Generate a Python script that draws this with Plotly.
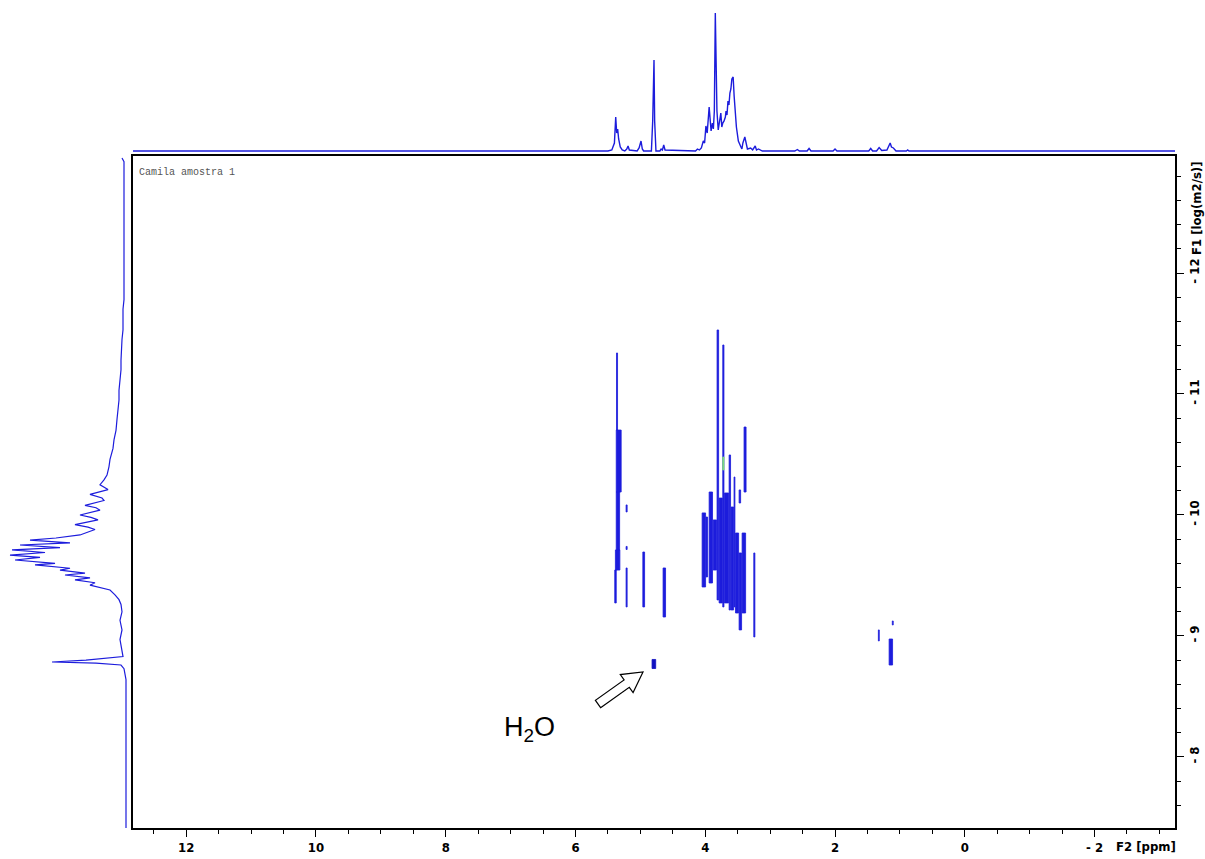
import plotly.graph_objects as go

W, H = 1205, 859

# ---------------- data ----------------
# F2 (1H) projection on top: chemical shift (ppm) and intensity
f2_ppm = [12.82, 5.50, 5.44, 5.40, 5.38, 5.365, 5.35, 5.335, 5.31, 5.28, 5.24, 5.21, 5.19, 5.17,
          5.05, 5.02, 4.99, 4.97, 4.95, 4.83, 4.81, 4.79, 4.78, 4.76, 4.70, 4.68, 4.66, 4.64, 4.62,
          4.30, 4.15, 4.12, 4.09, 4.06, 4.03, 4.01, 3.99, 3.97, 3.94, 3.91, 3.89, 3.875, 3.86,
          3.845, 3.83, 3.82, 3.80, 3.78, 3.76, 3.745, 3.73, 3.71, 3.69, 3.68, 3.665, 3.65, 3.635,
          3.62, 3.605, 3.59, 3.57, 3.555, 3.54, 3.52, 3.49, 3.47, 3.45, 3.435, 3.42, 3.39, 3.37,
          3.35, 3.30, 3.27, 3.23, 3.21, 3.18, 3.12, 2.62, 2.58, 2.55, 2.43, 2.40, 2.37, 2.03, 2.00,
          1.97, 1.48, 1.45, 1.42, 1.36, 1.32, 1.28, 1.20, 1.15, 1.13, 1.10, 1.06, 0.90, 0.88, 0.86,
          -3.24]
f2_int = [0, 0, 1, 8, 34, 18, 22, 12, 4, 1, 0, 2, 5, 1,
          0, 3, 10, 2, 0, 0, 30, 91, 30, 0, 0, 2, 1, 6, 1,
          0, 0, 2, 1, 3, 10, 8, 25, 18, 44, 20, 28, 22, 40,
          138, 60, 40, 21, 30, 38, 24, 28, 30, 34, 40, 36, 50, 46,
          58, 62, 72, 74, 55, 40, 24, 10, 6, 4, 2, 8, 14, 6,
          2, 3, 1, 5, 1, 2, 0, 0, 1.5, 0, 0, 2.5, 0, 0, 2,
          0, 0, 2.5, 0, 0, 3.5, 0.5, 1, 8, 4, 3, 0, 0, 1, 0,
          0]

# F1 (diffusion) projection on the left: log D and intensity
f1_logd = [-12.95, -12.92, -11.78, -11.70, -11.53, -11.45, -11.28, -11.20, -11.03, -10.95, -10.79,
           -10.70, -10.62, -10.55, -10.46, -10.40, -10.33, -10.29, -10.25, -10.21, -10.17, -10.14,
           -10.12, -10.08, -10.06, -10.04, -10.00, -9.98, -9.96, -9.92, -9.90, -9.88, -9.835,
           -9.81, -9.793, -9.77, -9.752, -9.73, -9.711, -9.69, -9.669, -9.65, -9.628, -9.60,
           -9.587, -9.56, -9.545, -9.52, -9.504, -9.48, -9.463, -9.44, -9.42, -9.38, -9.34,
           -9.30, -9.26, -9.20, -9.13, -9.05, -8.97, -8.88, -8.83, -8.80, -8.785, -8.775, -8.76,
           -8.73, -8.64, -7.41]
f1_int = [4, 2, 2, 3, 3, 4, 5, 5, 7, 7, 9,
          10, 12, 13, 16, 17, 19, 22, 26, 18, 36, 24,
          22, 41, 30, 26, 46, 35, 28, 51, 38, 31, 46,
          70, 96, 56, 106, 66, 114, 81, 116, 86, 111, 71,
          91, 56, 66, 41, 61, 36, 51, 31, 36, 16, 11,
          7, 5, 4, 6, 4, 6, 4, 3, 40, 74, 30, 5,
          2, 0, 0]

# 2D DOSY cross-peak regions: ppm extent (high, low) and log D extent (top, bottom)
pk_ppm_hi = [5.368, 5.372, 5.372, 5.385, 5.395, 5.220, 5.220, 5.220, 4.962, 4.650,
             4.048, 3.988, 3.940, 3.878, 3.818, 3.786, 3.730, 3.704, 3.632, 3.602,
             3.556, 3.534, 3.478, 3.432, 3.402, 3.478, 3.252,
             1.332, 1.117, 1.166]
pk_ppm_lo = [5.352, 5.296, 5.320, 5.316, 5.372, 5.204, 5.204, 5.204, 4.935, 4.612,
             3.995, 3.964, 3.888, 3.826, 3.794, 3.737, 3.712, 3.640, 3.610, 3.563,
             3.543, 3.486, 3.440, 3.378, 3.371, 3.455, 3.235,
             1.318, 1.103, 1.113]
pk_logd_top = [-11.339, -10.702, -10.190, -9.711, -9.545, -10.083, -9.740, -9.562, -9.694, -9.562,
               -10.017, -9.983, -10.190, -9.959, -11.529, -10.140, -11.405, -10.182, -10.496, -10.066,
               -10.314, -9.851, -9.686, -9.851, -10.727, -10.207, -9.686,
               -9.050, -9.124, -8.975]
pk_logd_bot = [-10.702, -10.190, -9.711, -9.545, -9.273, -10.025, -9.715, -9.240, -9.240, -9.157,
               -9.405, -9.488, -9.438, -9.545, -9.298, -9.273, -9.240, -9.273, -9.215, -9.215,
               -9.240, -9.190, -9.050, -9.190, -10.190, -10.099, -8.992,
               -8.959, -9.091, -8.760]

# water signal
h2o_ppm = [4.820, 4.764]
h2o_logd = [-8.806, -8.731]

# second contour level (green)
green_ppm = [3.730, 3.712]
green_logd = [-10.479, -10.372]

x_ticks = [12, 10, 8, 6, 4, 2, 0, -2]
x_ticktext = ["12", "10", "8", "6", "4", "2", "0", "- 2"]
y_ticks = [-12, -11, -10, -9, -8]
y_ticktext = ["- 12", "- 11", "- 10", "- 9", "- 8"]

# ---------------- styles ----------------
BLUE = "#1c1cdc"
AX_FONT = dict(family="Liberation Sans Narrow, DejaVu Sans Condensed, Arial Narrow, sans-serif",
               size=13, color="black", weight="bold")
X_RANGE = [12.82, -3.24]
Y_RANGE = [-7.413, -12.967]


def rects(xa, xb, ya, yb):
    xs, ys = [], []
    for a, b, c, d in zip(xa, xb, ya, yb):
        xs += [a, b, b, a, a, None]
        ys += [c, c, d, d, c, None]
    return xs, ys


fig = go.Figure()

px, py = rects(pk_ppm_hi, pk_ppm_lo, pk_logd_top, pk_logd_bot)
fig.add_trace(go.Scatter(x=px, y=py, mode="lines", fill="toself", fillcolor=BLUE,
                         line=dict(color=BLUE, width=0.8), xaxis="x", yaxis="y",
                         hoverinfo="skip", showlegend=False))
hx, hy = rects([h2o_ppm[0]], [h2o_ppm[1]], [h2o_logd[0]], [h2o_logd[1]])
fig.add_trace(go.Scatter(x=hx, y=hy, mode="lines", fill="toself", fillcolor="#1010c0",
                         line=dict(color="#1010c0", width=0.8), xaxis="x", yaxis="y",
                         hoverinfo="skip", showlegend=False))
gx, gy = rects([green_ppm[0]], [green_ppm[1]], [green_logd[0]], [green_logd[1]])
fig.add_trace(go.Scatter(x=gx, y=gy, mode="lines", fill="toself", fillcolor="#7ee07e",
                         line=dict(color="#7ee07e", width=0.8), xaxis="x", yaxis="y",
                         hoverinfo="skip", showlegend=False))

# top projection
fig.add_trace(go.Scatter(x=f2_ppm, y=f2_int, mode="lines", line=dict(color=BLUE, width=1.4),
                         xaxis="x2", yaxis="y2", hoverinfo="skip", showlegend=False))
# left projection
fig.add_trace(go.Scatter(x=f1_int, y=f1_logd, mode="lines", line=dict(color=BLUE, width=1.2),
                         xaxis="x3", yaxis="y3", hoverinfo="skip", showlegend=False))

main_xdom = [133 / W, 1175 / W]
main_ydom = [1 - 828 / H, 1 - 156 / H]

fig.update_layout(
    width=W, height=H, margin=dict(l=0, r=0, t=0, b=0),
    paper_bgcolor="white", plot_bgcolor="white",
    xaxis=dict(domain=main_xdom, range=X_RANGE, anchor="y",
               tickvals=x_ticks, ticktext=x_ticktext, ticks="outside", ticklen=7,
               tickwidth=1.2, tickcolor="black",
               minor=dict(dtick=0.5, ticks="outside", ticklen=4, tickwidth=1.2, tickcolor="black"),
               showline=True, linecolor="black", linewidth=1.5, mirror=True,
               showgrid=False, zeroline=False, tickfont=AX_FONT, automargin=False),
    yaxis=dict(domain=main_ydom, range=Y_RANGE, anchor="x", side="right",
               tickvals=y_ticks, ticktext=y_ticktext, tickangle=-90, ticks="outside", ticklen=7,
               tickwidth=1.2, tickcolor="black",
               minor=dict(dtick=0.2, ticks="outside", ticklen=4, tickwidth=1.2, tickcolor="black"),
               showline=True, linecolor="black", linewidth=1.5, mirror=True,
               showgrid=False, zeroline=False, tickfont=AX_FONT, automargin=False),
    xaxis2=dict(domain=main_xdom, range=X_RANGE, anchor="y2", visible=False),
    yaxis2=dict(domain=[1 - 152 / H, 1 - 12 / H], range=[-1, 139], anchor="x2", visible=False),
    xaxis3=dict(domain=[0, 127 / W], range=[126, -1], anchor="y3", visible=False),
    yaxis3=dict(domain=main_ydom, range=Y_RANGE, anchor="x3", visible=False),
)

fig.add_annotation(text="F2 [ppm]", x=1146 / W, y=1 - 846 / H, xref="paper", yref="paper",
                   xanchor="center", yanchor="middle", showarrow=False, font=AX_FONT)
fig.add_annotation(text="F1 [log(m2/s)]", x=1196 / W, y=1 - 208 / H, xref="paper", yref="paper",
                   xanchor="center", yanchor="middle", showarrow=False, textangle=-90, font=AX_FONT)
fig.add_annotation(text="Camila amostra 1", x=137 / W, y=1 - 172 / H, xref="paper", yref="paper",
                   xanchor="left", yanchor="middle", showarrow=False,
                   font=dict(family="Liberation Mono, DejaVu Sans Mono, monospace", size=10, color="#555555"))
fig.add_annotation(text="H<sub>2</sub>O", x=529 / W, y=1 - 729 / H, xref="paper", yref="paper",
                   xanchor="center", yanchor="middle", showarrow=False,
                   font=dict(family="Liberation Sans, Arial, sans-serif", size=27, color="black"))

# hollow block arrow pointing at the water signal
arrow_px = [(600.6, 707.7), (629.3, 687.3), (633.1, 692.6), (643.0, 672.0),
            (620.3, 674.6), (624.1, 679.9), (595.4, 700.3)]
path = "M " + " L ".join(f"{x / W:.5f},{1 - y / H:.5f}" for x, y in arrow_px) + " Z"
fig.add_shape(type="path", path=path, xref="paper", yref="paper",
              line=dict(color="black", width=1.2), fillcolor="white")

fig.write_html("out.html")
